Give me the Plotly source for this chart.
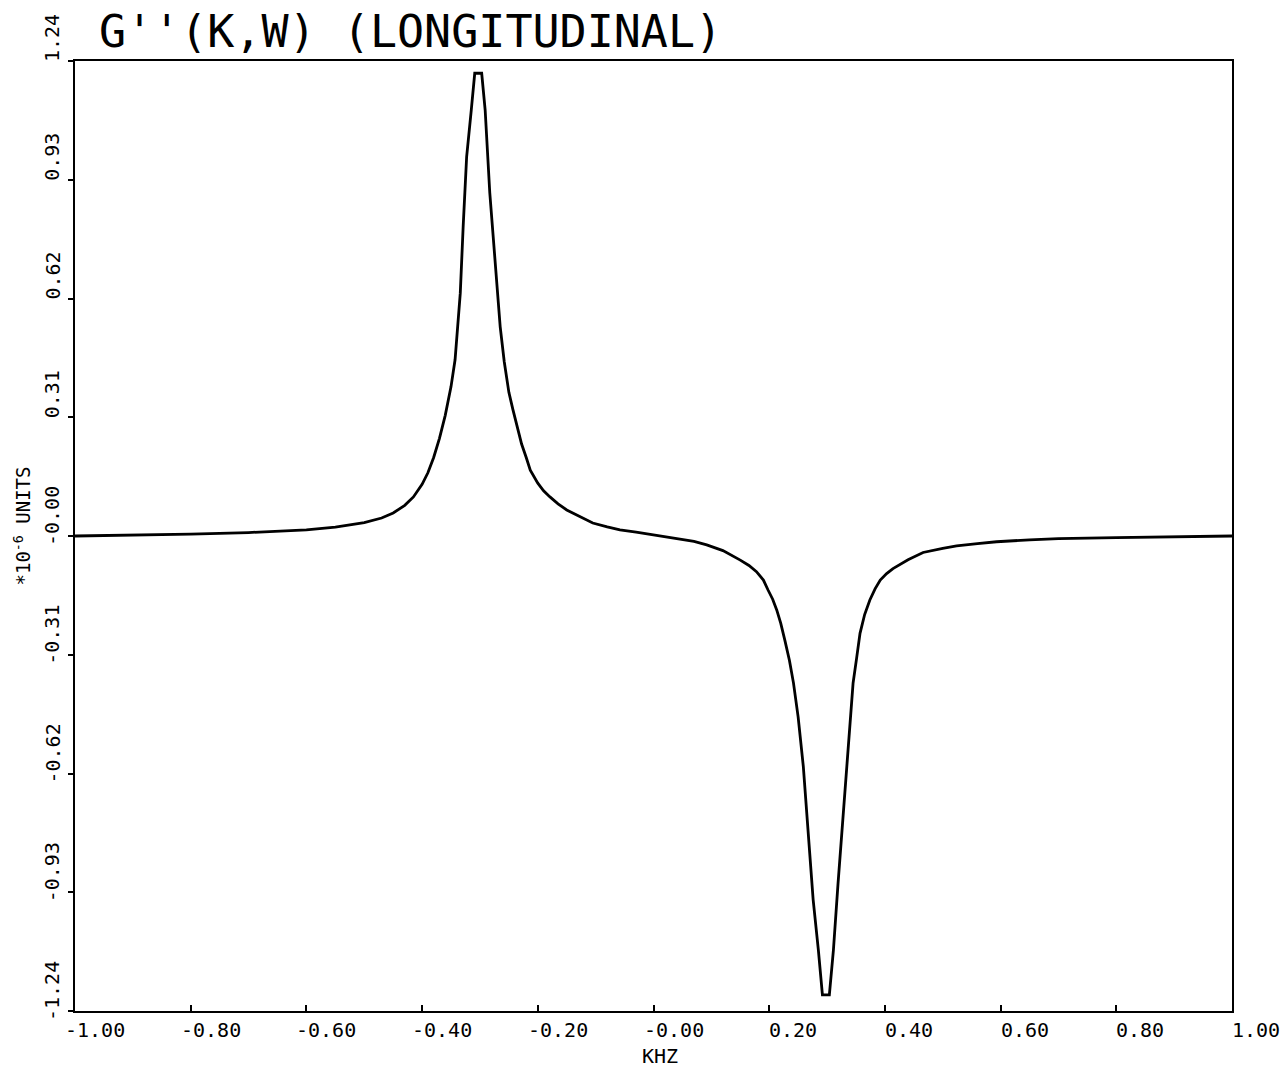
import plotly.graph_objects as go

# ---- data ----
freq_khz = [-1.00, -0.90, -0.80, -0.70, -0.65, -0.60, -0.55, -0.50, -0.47, -0.45,
            -0.43, -0.415, -0.40, -0.39, -0.38, -0.37, -0.36, -0.35, -0.343, -0.334,
            -0.329, -0.323, -0.315, -0.309, -0.297, -0.291, -0.283, -0.274, -0.265, -0.258,
            -0.250, -0.243, -0.236, -0.228, -0.220, -0.213, -0.200, -0.190, -0.179, -0.165,
            -0.150, -0.130, -0.105, -0.080, -0.058, -0.030, 0.000, 0.040, 0.070, 0.092,
            0.120, 0.150, 0.165, 0.178, 0.190, 0.198, 0.206, 0.213, 0.220, 0.227,
            0.235, 0.242, 0.250, 0.259, 0.268, 0.276, 0.285, 0.292, 0.304, 0.311,
            0.319, 0.328, 0.337, 0.345, 0.351, 0.357, 0.365, 0.374, 0.383, 0.392,
            0.403, 0.414, 0.440, 0.466, 0.500, 0.524, 0.560, 0.593, 0.650, 0.700,
            0.800, 0.900, 1.000]
g_long = [0.000, 0.002, 0.005, 0.009, 0.012, 0.016, 0.023, 0.035, 0.047, 0.060,
          0.080, 0.102, 0.135, 0.165, 0.205, 0.255, 0.315, 0.390, 0.460, 0.634,
          0.808, 0.990, 1.112, 1.208, 1.208, 1.112, 0.896, 0.721, 0.546, 0.455,
          0.375, 0.330, 0.285, 0.240, 0.205, 0.172, 0.138, 0.118, 0.102, 0.084,
          0.068, 0.052, 0.034, 0.024, 0.016, 0.010, 0.003, -0.006, -0.014, -0.023,
          -0.038, -0.063, -0.077, -0.093, -0.115, -0.141, -0.165, -0.193, -0.228, -0.272,
          -0.325, -0.384, -0.472, -0.602, -0.776, -0.950, -1.081, -1.198, -1.198, -1.081,
          -0.907, -0.733, -0.559, -0.384, -0.320, -0.254, -0.205, -0.167, -0.138, -0.115,
          -0.098, -0.085, -0.062, -0.043, -0.032, -0.026, -0.020, -0.015, -0.010, -0.007,
          -0.004, -0.002, 0.000]

x_tick_vals = [-1.0, -0.8, -0.6, -0.4, -0.2, 0.0, 0.2, 0.4, 0.6, 0.8, 1.0]
x_tick_text = ["-1.00", "-0.80", "-0.60", "-0.40", "-0.20", "-0.00",
               "0.20", "0.40", "0.60", "0.80", "1.00"]
y_tick_vals = [-1.24, -0.93, -0.62, -0.31, 0.0, 0.31, 0.62, 0.93, 1.24]
y_tick_text = ["-1.24", "-0.93", "-0.62", "-0.31", "-0.00", "0.31", "0.62", "0.93", "1.24"]

title_text = "G''(K,W) (LONGITUDINAL)"
x_title = "KHZ"
y_title = "*10<sup>-6</sup> UNITS"

FONT = "DejaVu Sans Mono"
TICK_SIZE = 20
MINUS_W = 12

fig = go.Figure()
fig.add_trace(go.Scatter(x=freq_khz, y=g_long, mode="lines",
                         line=dict(color="black", width=2.8), hoverinfo="skip",
                         showlegend=False))

annotations = []
for v, t in zip(x_tick_vals, x_tick_text):
    shift = -MINUS_W if t.startswith("-") else -2
    annotations.append(dict(x=v, y=0, xref="x", yref="paper", text=t, showarrow=False,
                            xanchor="left", yanchor="top", xshift=shift, yshift=-5,
                            font=dict(family=FONT, size=TICK_SIZE, color="black")))
for v, t in zip(y_tick_vals, y_tick_text):
    shift = -MINUS_W if t.startswith("-") else -3
    annotations.append(dict(x=0, y=v, xref="paper", yref="y", text=t, showarrow=False,
                            textangle=-90, xanchor="center", yanchor="bottom",
                            xshift=-23, yshift=shift,
                            font=dict(family=FONT, size=TICK_SIZE, color="black")))
annotations.append(dict(x=0.5, y=0, xref="paper", yref="paper", text=x_title,
                        showarrow=False, xanchor="center", yanchor="top", yshift=-31,
                        xshift=6,
                        font=dict(family=FONT, size=20, color="black")))
annotations.append(dict(x=0, y=0.51, xref="paper", yref="paper", text=y_title,
                        showarrow=False, textangle=-90, xanchor="center", yanchor="middle",
                        xshift=-53,
                        font=dict(family=FONT, size=19, color="black")))
annotations.append(dict(x=0, y=1, xref="paper", yref="paper", text=title_text,
                        showarrow=False, xanchor="left", yanchor="bottom",
                        xshift=22, yshift=1,
                        font=dict(family=FONT, size=45, color="black")))

fig.update_layout(
    width=1287, height=1069,
    margin=dict(l=75, r=55, t=61, b=58),
    paper_bgcolor="white", plot_bgcolor="white",
    annotations=annotations,
    xaxis=dict(range=[-1.0, 1.0], tickvals=x_tick_vals, showticklabels=False,
               ticks="inside", ticklen=6, tickwidth=2, tickcolor="black",
               showline=True, linecolor="black", linewidth=2, mirror=True,
               showgrid=False, zeroline=False),
    yaxis=dict(range=[-1.24, 1.24], tickvals=y_tick_vals, showticklabels=False,
               ticks="outside", ticklen=5, tickwidth=2, tickcolor="black",
               showline=True, linecolor="black", linewidth=2, mirror=True,
               showgrid=False, zeroline=False),
)

fig.write_html("out.html")
